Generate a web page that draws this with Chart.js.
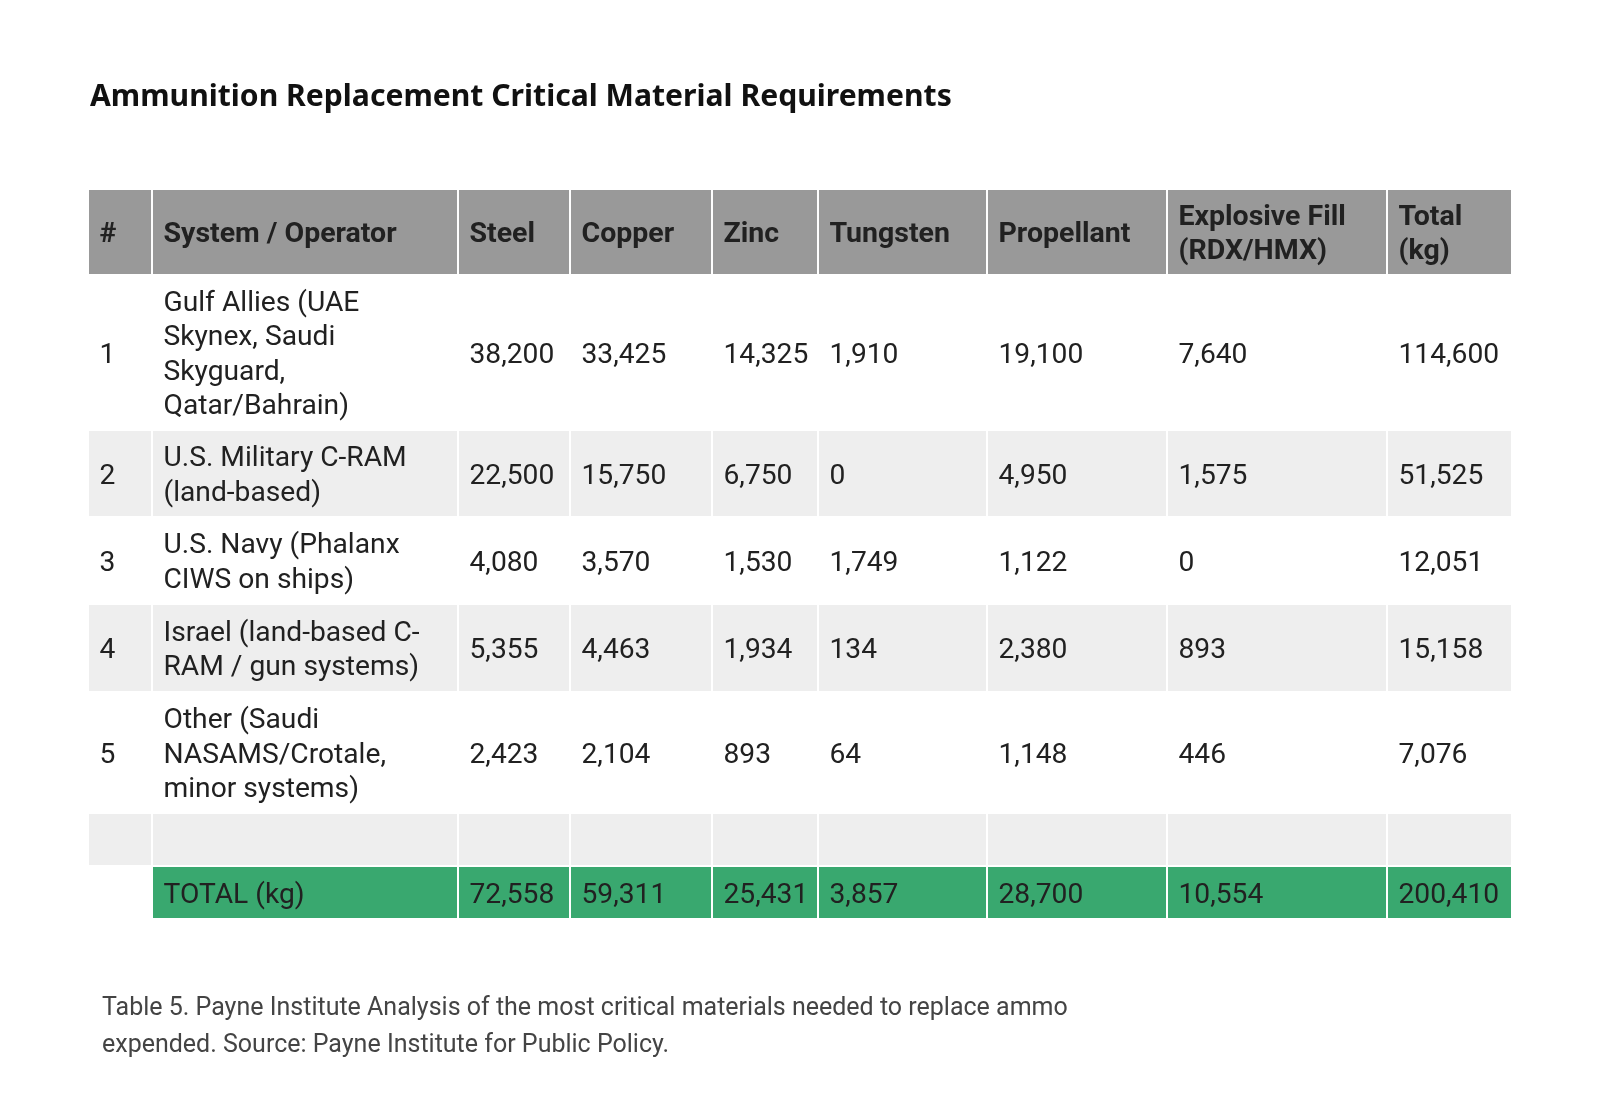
<!DOCTYPE html>
<html>
<head>
<meta charset="utf-8">
<title>Ammunition Replacement Critical Material Requirements</title>
<script src="https://cdn.jsdelivr.net/npm/chart.js@4.4.1/dist/chart.umd.min.js"></script>
<style>
    html, body {
        margin: 0;
        padding: 0;
        background: #ffffff;
    }
    canvas {
        display: block;
    }
</style>
</head>
<body>
<canvas id="tabela" width="1600" height="1120"></canvas>
<script>
// dados da tabela
const cabecalho = [
    ['#'],
    ['System / Operator'],
    ['Steel'],
    ['Copper'],
    ['Zinc'],
    ['Tungsten'],
    ['Propellant'],
    ['Explosive Fill', '(RDX/HMX)'],
    ['Total', '(kg)']
];

const numeros = ['1', '2', '3', '4', '5'];

const sistemas = [
    ['Gulf Allies (UAE', 'Skynex, Saudi', 'Skyguard,', 'Qatar/Bahrain)'],
    ['U.S. Military C-RAM', '(land-based)'],
    ['U.S. Navy (Phalanx', 'CIWS on ships)'],
    ['Israel (land-based C-', 'RAM / gun systems)'],
    ['Other (Saudi', 'NASAMS/Crotale,', 'minor systems)']
];

const aco = [38200, 22500, 4080, 5355, 2423];
const cobre = [33425, 15750, 3570, 4463, 2104];
const zinco = [14325, 6750, 1530, 1934, 893];
const tungstenio = [1910, 0, 1749, 134, 64];
const propelente = [19100, 4950, 1122, 2380, 1148];
const explosivo = [7640, 1575, 0, 893, 446];
const totais = [114600, 51525, 12051, 15158, 7076];

const rotuloTotal = 'TOTAL (kg)';
const linhaTotal = [72558, 59311, 25431, 3857, 28700, 10554, 200410];

const titulo = 'Ammunition Replacement Critical Material Requirements';
const legenda = [
    'Table 5. Payne Institute Analysis of the most critical materials needed to replace ammo',
    'expended. Source: Payne Institute for Public Policy.'
];

// layout (larguras das colunas e alturas das linhas, em px)
const larguras = [64, 306, 112, 142, 106, 169, 180, 220, 125];
const alturas = [86, 155, 87, 87, 88, 121, 53, 53];

const COR_CAB = '#999999';
const COR_CINZA = '#eeeeee';
const COR_VERDE = '#39a86f';
const COR_TEXTO = '#212121';
const FONTE = 'Roboto, "Liberation Sans", sans-serif';

function formatar(v) {
    return v.toLocaleString('en-US');
}

function somaAte(vetor, n) {
    let soma = 0;
    for (let i = 0; i < n; i++) {
        soma += vetor[i];
    }
    return soma;
}

// monta a grade de celulas: cada linha = { fundo, celulas: [linhas de texto] }
function montarLinhas() {
    const colunas = [aco, cobre, zinco, tungstenio, propelente, explosivo, totais];
    const linhas = [];
    linhas.push({ fundo: COR_CAB, negrito: true, celulas: cabecalho });
    for (let i = 0; i < numeros.length; i++) {
        const celulas = [[numeros[i]], sistemas[i]];
        for (let c = 0; c < colunas.length; c++) {
            celulas.push([formatar(colunas[c][i])]);
        }
        linhas.push({ fundo: i % 2 == 1 ? COR_CINZA : null, negrito: false, celulas: celulas });
    }
    // linha vazia
    linhas.push({ fundo: COR_CINZA, negrito: false, celulas: cabecalho.map(() => []) });
    // linha do total (primeira celula sem fundo)
    const celTotal = [null, [rotuloTotal]];
    for (let c = 0; c < linhaTotal.length; c++) {
        celTotal.push([formatar(linhaTotal[c])]);
    }
    linhas.push({ fundo: COR_VERDE, negrito: false, celulas: celTotal });
    return linhas;
}

const pluginTabela = {
    id: 'tabela',
    afterDraw(chart) {
        const ctx = chart.ctx;
        const x = chart.scales.x;
        const y = chart.scales.y;
        const linhas = montarLinhas();
        const entreLinhas = 34.4;

        ctx.save();

        // titulo
        ctx.fillStyle = '#111111';
        let tamTitulo = 30;
        ctx.font = 'bold ' + tamTitulo + 'px "Noto Sans", Inter, sans-serif';
        const medida = ctx.measureText(titulo).width;
        tamTitulo = tamTitulo * 862 / medida;
        ctx.font = 'bold ' + tamTitulo + 'px "Noto Sans", Inter, sans-serif';
        ctx.textBaseline = 'alphabetic';
        ctx.fillText(titulo, 90, 106);

        for (let r = 0; r < linhas.length; r++) {
            const linha = linhas[r];
            const topo = y.getPixelForValue(somaAte(alturas, r));
            const base = y.getPixelForValue(somaAte(alturas, r + 1));
            const centro = (topo + base) / 2;
            const tam = linha.negrito ? 28.5 : 28.2;
            const alturaMaiuscula = tam * 0.711;
            for (let c = 0; c < larguras.length; c++) {
                const cel = linha.celulas[c];
                if (cel === null) continue;
                const esq = x.getPixelForValue(somaAte(larguras, c));
                const dir = x.getPixelForValue(somaAte(larguras, c + 1));
                if (linha.fundo) {
                    ctx.fillStyle = linha.fundo;
                    ctx.fillRect(esq + 1, topo + 1, dir - esq - 2, base - topo - 2);
                }
                ctx.fillStyle = COR_TEXTO;
                ctx.font = (linha.negrito ? 'bold ' : '') + tam + 'px ' + FONTE;
                for (let k = 0; k < cel.length; k++) {
                    const yc = centro - (cel.length - 1) * entreLinhas / 2 + k * entreLinhas;
                    ctx.fillText(cel[k], esq + 11.5, yc + alturaMaiuscula / 2);
                }
            }
        }

        // legenda embaixo
        ctx.fillStyle = '#444444';
        ctx.font = '25px ' + FONTE;
        for (let k = 0; k < legenda.length; k++) {
            ctx.fillText(legenda[k], 102, 1015 + k * 37);
        }

        ctx.restore();
    }
};

const canvas_tabela = document.getElementById('tabela');

const config_tabela = {
    type: 'scatter',
    data: { datasets: [] },
    options: {
        responsive: false,
        animation: false,
        devicePixelRatio: 1,
        layout: {
            padding: { left: 88, top: 189, right: 88, bottom: 201 }
        },
        scales: {
            x: { type: 'linear', min: 0, max: somaAte(larguras, larguras.length), display: false },
            y: { type: 'linear', min: 0, max: somaAte(alturas, alturas.length), reverse: true, display: false }
        },
        plugins: {
            legend: { display: false },
            tooltip: { enabled: false }
        }
    },
    plugins: [pluginTabela]
};

const grafico_tabela = new Chart(canvas_tabela, config_tabela);
</script>
</body>
</html>
